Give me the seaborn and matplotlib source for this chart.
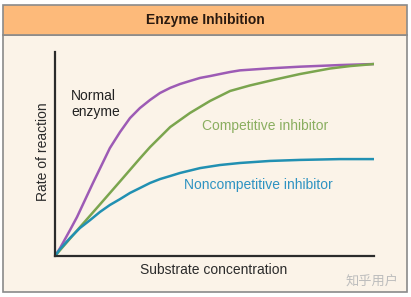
import matplotlib
matplotlib.use("Agg")
import matplotlib.pyplot as plt
from matplotlib.patches import Rectangle
import seaborn as sns
import pandas as pd

# ---- data ----
normal_x = [0, 0.16, 0.47, 0.69, 1.19, 1.72, 2.04, 2.35, 2.66, 2.98, 3.29, 3.61, 3.92,
            4.23, 4.55, 4.86, 5.17, 5.49, 5.80, 6.74, 7.68, 8.93, 10]
normal_y = [0, 3.9, 12.7, 19.1, 35.8, 52.9, 60.8, 67.6, 72.5, 76.5, 79.9, 82.4, 84.3,
            85.8, 87.3, 88.2, 89.2, 90.2, 91.0, 92.0, 92.8, 93.6, 94.1]

comp_x = [0, 0.16, 0.78, 1.41, 2.04, 2.66, 2.98, 3.61, 4.23, 4.86, 5.49, 6.11, 6.90,
          7.68, 8.62, 9.25, 10]
comp_y = [0, 2.9, 14.1, 25.3, 36.6, 47.8, 53.4, 63.2, 70.1, 76.0, 80.9, 83.6, 86.5,
          89.2, 91.9, 93.1, 94.1]

noncomp_x = [0, 0.16, 0.47, 0.78, 1.10, 1.41, 1.72, 2.04, 2.35, 2.66, 2.98, 3.29, 3.61,
             3.92, 4.55, 5.17, 5.80, 6.74, 7.68, 8.93, 10]
noncomp_y = [0, 3.4, 8.8, 13.7, 17.6, 21.6, 25.0, 27.9, 30.9, 33.3, 35.8, 37.7, 39.2,
             40.7, 43.1, 44.6, 45.6, 46.6, 47.1, 47.5, 47.5]

series_names = ["Normal enzyme", "Competitive inhibitor", "Noncompetitive inhibitor"]
title = "Enzyme Inhibition"
xlabel = "Substrate concentration"
ylabel = "Rate of reaction"
watermark = "知乎用户"

line_colors = ["#9D5BB5", "#7BA54E", "#2190B2"]
text_colors = ["#222222", "#8AAE60", "#2E93C2"]

df = pd.concat([
    pd.DataFrame({"x": normal_x, "y": normal_y, "s": series_names[0]}),
    pd.DataFrame({"x": comp_x, "y": comp_y, "s": series_names[1]}),
    pd.DataFrame({"x": noncomp_x, "y": noncomp_y, "s": series_names[2]}),
])

sns.set_theme(style="white")
plt.rcParams['font.family'] = ['Liberation Sans', 'Noto Sans CJK SC', 'DejaVu Sans']

W, H = 411, 297
fig = plt.figure(figsize=(W / 100, H / 100), dpi=100)
fig.patch.set_facecolor("white")

def fx(px):
    return px / W

def fy(py):
    return 1 - py / H

# panel and header
fig.patches.append(Rectangle((fx(3), fy(292)), fx(407) - fx(3), fy(35) - fy(292),
                             transform=fig.transFigure, facecolor="#FBF3E8",
                             edgecolor="#8A8A8A", linewidth=1.2, zorder=-5))
fig.patches.append(Rectangle((fx(3), fy(35)), fx(407) - fx(3), fy(5) - fy(35),
                             transform=fig.transFigure, facecolor="#FDBA7A",
                             edgecolor="#8A8A8A", linewidth=1.2, zorder=-5))
fig.text(fx(205), fy(20), title, ha="center", va="center", fontsize=10,
         fontweight="bold", color="#2A1A10")

ax = fig.add_axes([fx(55), fy(256), fx(374) - fx(55), fy(52) - fy(256)])
ax.set_zorder(2)
ax.set_facecolor("none")
ax.patch.set_alpha(0)
sns.lineplot(data=df, x="x", y="y", hue="s", palette=line_colors,
             hue_order=series_names, linewidth=1.8, ax=ax, legend=False, sort=False,
             solid_joinstyle="round", solid_capstyle="round")
ax.set_xlim(0, 10)
ax.set_ylim(0, 100)
ax.set_xticks([])
ax.set_yticks([])
ax.set_xlabel("")
ax.set_ylabel("")
for side in ["top", "right"]:
    ax.spines[side].set_visible(False)
for side in ["left", "bottom"]:
    ax.spines[side].set_visible(True)
    ax.spines[side].set_color("#2B2B2B")
    ax.spines[side].set_linewidth(1.6)

# labels
fig.text(fx(71), fy(104), "Normal\nenzyme", ha="left", va="center", fontsize=10,
         color=text_colors[0], linespacing=1.15, multialignment="left", zorder=3)
fig.text(fx(202), fy(126), series_names[1], ha="left", va="center", fontsize=10,
         color=text_colors[1], zorder=3)
fig.text(fx(184), fy(185), series_names[2], ha="left", va="center", fontsize=10,
         color=text_colors[2], zorder=3)
fig.text(fx(214), fy(270), xlabel, ha="center", va="center", fontsize=10, color="#2B2B2B", zorder=3)
fig.text(fx(43), fy(152), ylabel, ha="center", va="center", fontsize=10,
         color="#2B2B2B", rotation=90, zorder=3)
fig.text(fx(372), fy(281), watermark, ha="center", va="center", fontsize=9.5,
         color="#BDBDBD", family=["Noto Sans CJK SC", "DejaVu Sans"], zorder=3)

fig.savefig("out.png", dpi=100, facecolor="white")
